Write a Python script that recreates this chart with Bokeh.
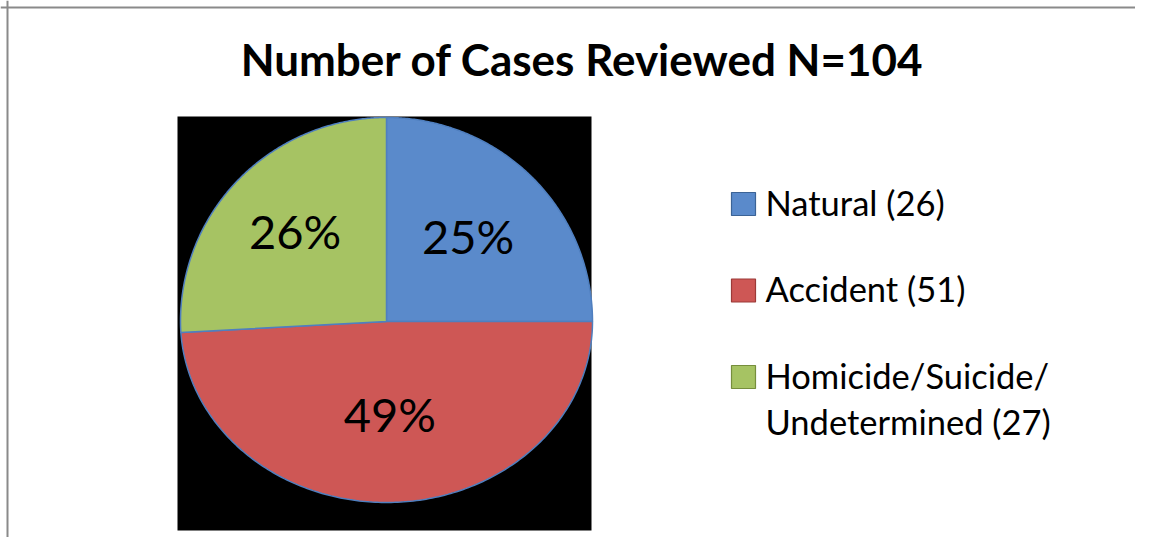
import numpy as np
from bokeh.plotting import figure
from bokeh.models import Range1d, ColumnDataSource, Span
from bokeh.core.properties import value
from bokeh.embed import file_html
from bokeh.resources import INLINE

# ---- data ----
title_text = "Number of Cases Reviewed N=104"
categories = ["Natural", "Accident", "Homicide/Suicide/Undetermined"]
counts = [26, 51, 27]

# ---- styling / layout ----
colors = ["#5A8ACB", "#CE5755", "#A6C363"]
edge_colors = ["#3B6396", "#9C3A38", "#768E3C"]
W, H = 1135, 537
cx, cy = 386.0, 321.0          # pie centre (px)
rx, ry_up, ry_dn = 206.0, 204.0, 181.0
label_frac = [0.56, 0.54, 0.61]
label_dy = -5.0

p = figure(width=W, height=H, output_backend="svg", toolbar_location=None,
           x_range=Range1d(0, W), y_range=Range1d(H, 0),
           min_border=0, outline_line_color=None)
p.axis.visible = False
p.grid.visible = False
p.background_fill_color = "white"
p.border_fill_color = "white"

# chart border (top and left visible in reference)
p.add_layout(Span(location=7, dimension="width", line_color="#8A8A8A", line_width=2))
p.add_layout(Span(location=7, dimension="height", line_color="#8A8A8A", line_width=2))

# plot area (black)
p.quad(left=[177], right=[591], top=[116], bottom=[530], fill_color="black", line_color=None)

# pie slices from the counts
total = float(sum(counts))
fracs = np.array(counts) / total
ends = 90.0 - 360.0 * np.cumsum(fracs)
starts = np.concatenate([[90.0], ends[:-1]])

def pt(theta_deg, f=1.0):
    t = np.radians(theta_deg)
    s = np.sin(t)
    ry = np.where(s > 0, ry_up, ry_dn)
    return cx + f * rx * np.cos(t), cy - f * ry * s

xs, ys = [], []
for a0, a1 in zip(starts, ends):
    th = np.linspace(a0, a1, 200)
    ax, ay = pt(th)
    xs.append(np.concatenate([[cx], ax, [cx]]).tolist())
    ys.append(np.concatenate([[cy], ay, [cy]]).tolist())

src = ColumnDataSource(dict(xs=xs, ys=ys, color=colors))
p.patches("xs", "ys", source=src, fill_color="color", line_color="#4F7FBF", line_width=1.5)

# percentage labels
mids = (starts + ends) / 2.0
lx, ly = [], []
for m, f in zip(mids, label_frac):
    a, b = pt(np.array([m]), f)
    lx.append(float(a[0])); ly.append(float(b[0]) + label_dy)
pct = [f"{round(100 * c / total)}%" for c in counts]
p.text(x=lx, y=ly, text=pct, text_font=value("Lato"), text_font_size="47px",
       text_align="center", text_baseline="middle", text_color="black")

# title
p.text(x=[582], y=[58], text=[title_text], text_font=value("Lato"), text_font_style="bold",
       text_font_size="44px", text_align="center", text_baseline="alphabetic", text_color="black")

# legend (manual)
def wrap(s):
    if len(s) > 20 and "/" in s:
        k = s.rfind("/")
        return [s[:k + 1], s[k + 1:]]
    return [s]

sq_base0, txt_base0, step, line_h = 214.0, 201.5, 86.5, 46.0
tx, ty, tt = [], [], []
sq_l, sq_r, sq_t, sq_b = [], [], [], []
for i, (c, n) in enumerate(zip(categories, counts)):
    lines = wrap(c)
    lines[-1] = lines[-1] + f" ({n})"
    sb = sq_base0 + i * step
    tb = txt_base0 + i * step
    sq_l.append(731.0); sq_r.append(755.0); sq_t.append(sb - 22); sq_b.append(sb + 1)
    for j, ln in enumerate(lines):
        tx.append(765.0); ty.append(tb + j * line_h); tt.append(ln)

p.quad(left=sq_l, right=sq_r, top=sq_t, bottom=sq_b, fill_color=colors,
       line_color=edge_colors, line_width=1.2)
p.text(x=tx, y=ty, text=tt, text_font=value("Lato"), text_font_size="34.5px",
       text_align="left", text_baseline="alphabetic", text_color="black")

open("out.html", "w").write(file_html(p, INLINE))
